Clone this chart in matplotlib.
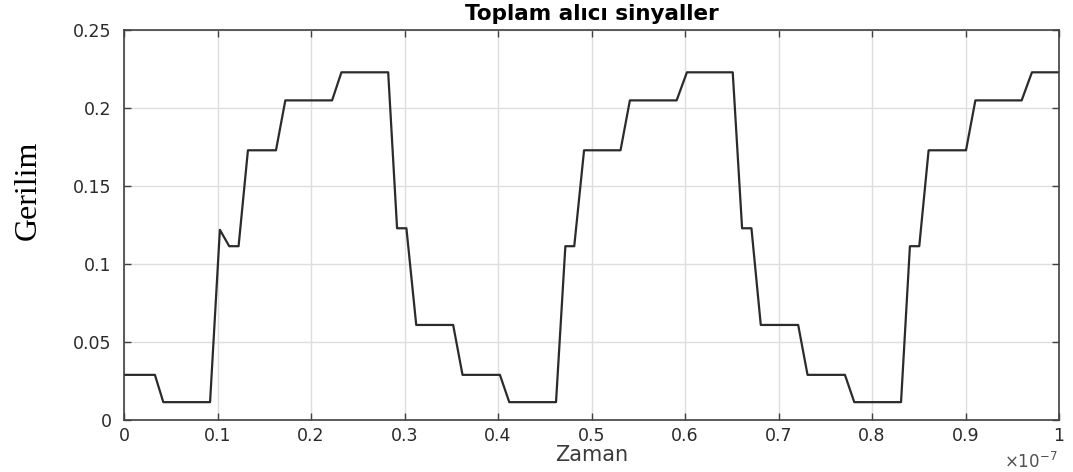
import matplotlib
matplotlib.use("Agg")
import matplotlib.pyplot as plt

# received signal sum, time in units of 1e-7 s
zaman = [0, 0.033, 0.042, 0.092, 0.1025, 0.1125, 0.1225, 0.1325,
         0.1625, 0.1725, 0.2225, 0.2325, 0.2825, 0.2920, 0.3020, 0.3125,
         0.3520, 0.3620, 0.4020, 0.4120, 0.4620, 0.4720, 0.4815, 0.4920,
         0.5310, 0.5410, 0.5910, 0.6020, 0.6510, 0.6610, 0.6710, 0.6810,
         0.7210, 0.7310, 0.7710, 0.7810, 0.8310, 0.8405, 0.8505, 0.8605,
         0.9005, 0.9105, 0.9600, 0.9710, 1.0]
gerilim = [0.029, 0.029, 0.0115, 0.0115, 0.122, 0.1115, 0.1115, 0.173,
           0.173, 0.205, 0.205, 0.223, 0.223, 0.123, 0.123, 0.061,
           0.061, 0.029, 0.029, 0.0115, 0.0115, 0.1115, 0.1115, 0.173,
           0.173, 0.205, 0.205, 0.223, 0.223, 0.123, 0.123, 0.061,
           0.061, 0.029, 0.029, 0.0115, 0.0115, 0.1115, 0.1115, 0.173,
           0.173, 0.205, 0.205, 0.223, 0.223]

xticks = [i / 10 for i in range(11)]
xticklabels = ["0", "0.1", "0.2", "0.3", "0.4", "0.5", "0.6", "0.7", "0.8", "0.9", "1"]
yticks = [0, 0.05, 0.1, 0.15, 0.2, 0.25]
yticklabels = ["0", "0.05", "0.1", "0.15", "0.2", "0.25"]

plt.rcParams['font.family'] = ['DejaVu Sans']

fig = plt.figure(figsize=(10.73, 4.72), dpi=100)
ax = fig.add_axes([0.1156, 0.110, 0.8714, 0.826])

ax.plot(zaman, gerilim, color="#2b2b2b", lw=1.6)

ax.set_xlim(0, 1)
ax.set_ylim(0, 0.25)
ax.set_xticks(xticks)
ax.set_xticklabels(xticklabels)
ax.set_yticks(yticks)
ax.set_yticklabels(yticklabels)

ax.grid(True, color="#dedede", lw=1.0)
ax.set_axisbelow(True)
ax.tick_params(direction="in", top=True, right=True, length=5, width=1,
               color="#404040", labelsize=12.5, labelcolor="#2a2a2a")
ax.tick_params(axis="x", pad=5)
ax.tick_params(axis="y", pad=9)
for sp in ax.spines.values():
    sp.set_color("#404040")
    sp.set_linewidth(1.2)

ax.set_title("Toplam alıcı sinyaller", fontsize=15.5, fontweight="bold", pad=7)
ax.set_xlabel("Zaman", fontsize=15, color="#3a3a3a", labelpad=0)

# y label sits a bit above the axes centre
fig.text(28 / 1073, 1 - 190 / 472, "Gerilim", rotation=90, ha="center", va="center",
         fontsize=23, family="Liberation Serif")

fig.text(1058 / 1073, 1 - 462 / 472, r"$\times 10^{-7}$", ha="right", va="center",
         fontsize=12, color="#505050")

fig.savefig("out.png", dpi=100)
